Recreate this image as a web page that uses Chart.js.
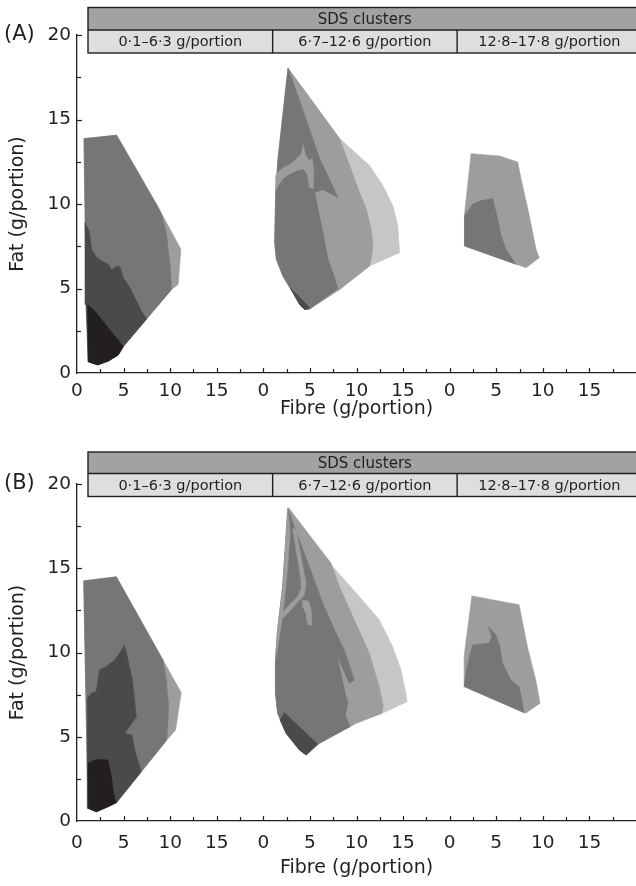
<!DOCTYPE html>
<html><head><meta charset="utf-8">
<script src="https://cdn.jsdelivr.net/npm/chart.js@4.4.1/dist/chart.umd.min.js"></script>
<style>
html,body{margin:0;padding:0;background:#fff;width:636px;height:886px;overflow:hidden}
.p{position:absolute;left:0;width:636px;height:443px}
canvas{display:block}
</style></head><body>
<div class="p" style="top:0"><canvas id="cA" width="636" height="443"></canvas></div>
<div class="p" style="top:443px"><canvas id="cB" width="636" height="443"></canvas></div>
<script>
// ---------- data ----------
const stripTitle = 'SDS clusters';
const clusterLabels = ['0·1–6·3 g/portion', '6·7–12·6 g/portion', '12·8–17·8 g/portion'];
const xTickValues = [0, 5, 10, 15];          // fibre ticks inside each cluster facet
const yTickValues = [0, 5, 10, 15, 20];      // fat ticks
const facetWidth = 20;                       // fibre range of one facet
const xTitle = 'Fibre (g/portion)';
const yTitle = 'Fat (g/portion)';
const shades = ['#231f20', '#4a4a4a', '#767676', '#9d9d9d', '#c6c6c6'];

// Panel (A) polygons: [fibre, fat]
const A1_outer = [[0.75,13.87],[4.25,14.07],[8.72,9.8],[11.15,7.32],[10.86,5.24],[10.15,4.94],[4.97,1.57],[4.43,1.07],[3.36,0.71],[2.21,0.48],[1.21,0.67],[0.93,6.83]];
const A1_mid = [[0.75,13.87],[4.25,14.07],[8.72,9.8],[9.14,9.3],[9.61,8.21],[9.97,6.43],[10.15,4.94],[4.97,1.57],[4.43,1.07],[3.36,0.71],[2.21,0.48],[1.21,0.67],[0.93,6.83]];
const A1_dark = [[0.86,8.91],[1.29,8.41],[1.57,7.32],[2.11,6.83],[2.64,6.63],[3.36,6.43],[3.72,6.09],[4.25,6.33],[4.61,6.27],[4.97,5.63],[5.68,5.04],[6.4,4.25],[6.93,3.65],[7.47,3.2],[4.97,1.57],[4.43,1.07],[3.36,0.71],[2.21,0.48],[1.21,0.67],[0.96,4.05]];
const A1_darkest = [[1.14,4.05],[1.93,3.65],[3.36,2.66],[4.97,1.57],[4.43,1.07],[3.36,0.71],[2.21,0.48],[1.21,0.67]];
const A2_outer = [[2.65,18.04],[8.19,13.87],[11.4,12.28],[12.83,11.09],[13.9,9.9],[14.44,8.71],[14.62,7.12],[11.4,6.33],[8.19,4.94],[4.97,3.79],[4.44,3.75],[3.9,4.05],[3.19,4.74],[2.11,5.73],[1.4,6.73],[1.22,7.72],[1.33,10.69],[1.58,12.68]];
const A2_mid = [[2.65,18.04],[8.19,13.87],[9.26,12.28],[10.33,10.69],[11.05,9.7],[11.58,8.51],[11.76,7.52],[11.58,6.73],[11.4,6.33],[8.19,4.94],[4.97,3.79],[4.44,3.75],[3.9,4.05],[3.19,4.74],[2.11,5.73],[1.4,6.73],[1.22,7.72],[1.33,10.69],[1.58,12.68]];
const A2_dark = [[2.65,18.04],[4.44,15.26],[6.05,12.68],[8.01,10.4],[6.4,10.85],[5.51,10.69],[5.87,9.7],[6.4,8.31],[6.94,6.73],[7.5,5.9],[8.0,5.0],[4.97,3.79],[4.44,3.75],[3.9,4.05],[3.19,4.74],[2.11,5.73],[1.4,6.73],[1.22,7.72],[1.33,10.69],[1.58,12.68]];
const A2_patch = [[1.33,11.69],[1.94,12.08],[2.83,12.32],[3.55,12.68],[4.08,12.98],[4.26,13.51],[4.54,12.88],[4.9,12.58],[5.26,12.68],[5.4,11.88],[5.33,10.89],[4.97,10.99],[4.69,11.79],[4.26,12.08],[3.55,11.98],[2.83,11.79],[2.11,11.49],[1.58,11.09],[1.33,10.79]];
const A2_base = [[2.9,5.01],[3.7,4.6],[4.97,3.85],[4.44,3.75],[3.9,4.05],[3.19,4.74]];
const A3_outer = [[2.3,12.98],[5.34,12.84],[7.3,12.48],[7.66,11.49],[8.55,9.3],[9.27,7.32],[9.62,6.83],[8.2,6.23],[1.59,7.52],[1.59,9.4]];
const A3_inner = [[1.59,9.3],[2.48,10.0],[3.37,10.2],[4.09,10.26],[4.62,10.34],[4.8,9.9],[5.16,9.1],[5.52,8.11],[6.05,7.32],[7.13,6.43],[1.59,7.52]];

// Panel (B) polygons: [fibre, fat]
const B1_outer = [[0.72,14.25],[4.22,14.49],[9.22,9.56],[11.19,7.62],[10.58,5.4],[9.58,4.77],[4.22,1.09],[3.32,0.85],[2.08,0.55],[1.18,0.75]];
const B1_mid = [[0.72,14.25],[4.22,14.49],[9.22,9.56],[9.58,8.37],[9.83,6.79],[9.69,5.21],[9.58,4.77],[4.22,1.09],[3.32,0.85],[2.08,0.55],[1.18,0.75]];
const B1_dark = [[1.11,7.28],[1.54,7.58],[2.08,7.68],[2.25,8.37],[2.43,8.97],[3.15,9.16],[4.04,9.56],[4.58,9.96],[5.11,10.45],[5.47,9.56],[5.94,8.37],[6.37,6.19],[5.1,5.2],[5.9,5.1],[6.18,4.22],[6.9,2.93],[4.22,1.09],[3.32,0.85],[2.08,0.55],[1.18,0.75]];
const B1_darkest = [[1.18,3.43],[2.08,3.66],[3.32,3.62],[3.69,2.63],[3.93,1.64],[4.22,1.09],[3.32,0.85],[2.08,0.55],[1.22,0.75]];
const B2_outer = [[2.69,18.59],[7.44,15.1],[10.3,13.32],[12.44,11.94],[13.87,10.35],[14.77,8.97],[15.3,7.58],[15.41,7.08],[13.16,6.49],[9.95,5.8],[6.01,4.61],[4.59,3.92],[3.87,4.22],[2.44,5.21],[1.54,6.39],[1.3,7.58],[1.3,9.56],[1.54,11.34],[2.08,13.91]];
const B2_mid = [[2.69,18.59],[7.27,15.3],[8.16,13.91],[9.76,11.94],[11.37,9.96],[12.44,7.98],[12.87,6.79],[12.73,6.39],[9.95,5.8],[6.01,4.61],[4.59,3.92],[3.87,4.22],[2.44,5.21],[1.54,6.39],[1.3,7.58],[1.3,9.56],[1.54,11.34],[2.08,13.91]];
const B2_dark = [[2.62,18.57],[3.52,17.18],[4.94,15.1],[6.37,12.93],[7.8,11.15],[8.69,10.15],[9.76,8.37],[9.23,8.18],[7.87,9.86],[8.8,7.58],[9.09,6.99],[8.8,6.29],[9.3,5.6],[6.01,4.61],[4.59,3.92],[3.87,4.22],[2.44,5.21],[1.54,6.39],[1.3,7.58],[1.3,9.56],[1.54,11.34],[2.08,13.91]];
const B2_edge = [[2.62,18.57],[2.87,17.08],[2.62,15.1],[2.26,13.12],[1.9,11.54],[1.55,10.35],[1.3,9.56],[1.54,11.34],[2.08,13.91]];
const B2_streak = [[3.15,17.38],[3.51,17.28],[4.58,14.11],[4.4,13.42],[3.87,13.12],[2.97,12.53],[2.08,12.03],[1.73,12.13],[2.62,12.73],[3.69,13.32],[4.15,13.87],[4.05,14.31]];
const B2_blob = [[4.22,13.12],[4.87,13.02],[5.12,12.53],[5.23,11.64],[4.76,11.64],[4.58,12.33],[4.22,12.73]];
const B2_base = [[2.26,6.43],[5.83,4.57],[4.59,3.92],[3.87,4.22],[2.44,5.21],[1.8,6.0]];
const B3_outer = [[2.38,13.36],[7.45,12.83],[8.34,10.35],[9.24,8.37],[9.7,6.99],[8.17,6.4],[1.55,7.98],[1.55,9.76],[1.91,11.34]];
const B3_inner = [[1.55,7.98],[1.8,8.97],[2.44,10.45],[4.23,10.55],[4.52,10.91],[4.16,11.54],[4.95,11.05],[5.38,10.35],[5.66,9.36],[6.56,8.37],[7.45,7.98],[7.74,7.19],[7.98,6.43]];

// layers, bottom to top: cluster index, shade index, polygon
const layersA = [
  [0,3,A1_outer],[0,2,A1_mid],[0,1,A1_dark],[0,0,A1_darkest],
  [1,4,A2_outer],[1,3,A2_mid],[1,2,A2_dark],[1,3,A2_patch],[1,1,A2_base],
  [2,3,A3_outer],[2,2,A3_inner]
];
const layersB = [
  [0,3,B1_outer],[0,2,B1_mid],[0,1,B1_dark],[0,0,B1_darkest],
  [1,4,B2_outer],[1,3,B2_mid],[1,2,B2_dark],[1,3,B2_edge],[1,3,B2_streak],[1,3,B2_blob],[1,1,B2_base],
  [2,3,B3_outer],[2,2,B3_inner]
];

// ---------- rendering ----------
const FONT = 'DejaVu Sans';
const INK = '#231f20';
const stripEdges = [1.18, 21.0, 40.8, 60.6];

const decor = {
  id: 'decor',
  afterDraw(chart, args, o) {
    const {ctx, scales: {x, y}} = chart;
    ctx.save();
    // inward ticks
    ctx.strokeStyle = INK; ctx.lineWidth = 1.2;
    for (let v = 2.5; v <= 20; v += 2.5) {
      const py = Math.round(y.getPixelForValue(v)) + 0.5;
      ctx.beginPath(); ctx.moveTo(x.left, py); ctx.lineTo(x.left + (v % 5 === 0 ? 5 : 4), py); ctx.stroke();
    }
    for (let v = 2.5; v < 3 * facetWidth; v += 2.5) {
      const px = Math.round(x.getPixelForValue(v)) + 0.5;
      ctx.beginPath(); ctx.moveTo(px, y.bottom); ctx.lineTo(px, y.bottom - (v % 5 === 0 ? 5 : 4)); ctx.stroke();
    }
    // strip header
    const sx = stripEdges.map(v => x.getPixelForValue(v));
    const t = o.stripTop, m = o.stripMid, b = o.stripBottom;
    ctx.fillStyle = '#a2a2a2';
    ctx.fillRect(sx[0], t, sx[3] - sx[0], m - t);
    ctx.fillStyle = '#dedede';
    ctx.fillRect(sx[0], m, sx[3] - sx[0], b - m);
    ctx.strokeStyle = INK; ctx.lineWidth = 1.4;
    ctx.strokeRect(sx[0], t, sx[3] - sx[0], b - t);
    ctx.beginPath(); ctx.moveTo(sx[0], m); ctx.lineTo(sx[3], m);
    ctx.moveTo(sx[1], m); ctx.lineTo(sx[1], b);
    ctx.moveTo(sx[2], m); ctx.lineTo(sx[2], b); ctx.stroke();
    ctx.fillStyle = INK;
    ctx.font = '15px "' + FONT + '"';
    ctx.textAlign = 'center'; ctx.textBaseline = 'middle';
    ctx.fillText(stripTitle, (sx[0] + sx[3]) / 2, (t + m) / 2 + 1);
    ctx.font = '14.5px "' + FONT + '"';
    clusterLabels.forEach((lab, i) => ctx.fillText(lab, (sx[i] + sx[i + 1]) / 2, (m + b) / 2 + 1));
    // panel label
    ctx.font = '21px "' + FONT + '"';
    ctx.textAlign = 'left';
    ctx.fillText(o.label, 4, y.getPixelForValue(20));
    ctx.restore();
  }
};

function makePanel(id, layers, cfg) {
  const datasets = layers.map(([cl, shade, pts], i) => {
    const closed = pts.concat([pts[0]]);
    return {
      data: closed.map(p => ({x: p[0] + facetWidth * cl, y: p[1]})),
      showLine: true, fill: 'shape',
      backgroundColor: shades[shade], borderColor: shades[shade],
      borderWidth: 0.6, pointRadius: 0, pointHoverRadius: 0, tension: 0,
      order: layers.length - i
    };
  });
  const xTicks = [];
  for (let f = 0; f < 3; f++) xTickValues.forEach(v => xTicks.push(v + facetWidth * f));
  return new Chart(document.getElementById(id), {
    type: 'scatter',
    data: {datasets},
    options: {
      responsive: false, animation: false, events: [],
      layout: {padding: {top: cfg.top, left: 0, right: 0, bottom: 0}},
      plugins: {legend: {display: false}, tooltip: {enabled: false},
        decor: {label: cfg.label, stripTop: cfg.stripTop, stripMid: cfg.stripMid, stripBottom: cfg.stripBottom}},
      scales: {
        x: {
          type: 'linear', min: 0, max: 3 * facetWidth,
          afterBuildTicks: s => { s.ticks = xTicks.map(v => ({value: v})); },
          afterFit: s => { s.height = cfg.xAxisH; },
          grid: {display: false, drawTicks: false},
          border: {display: true, color: INK, width: 1.3},
          ticks: {autoSkip: false, maxRotation: 0, padding: cfg.xTickPad, color: INK,
            font: {family: FONT, size: 18.5},
            callback: (v, i) => String(xTickValues[i % xTickValues.length])},
          title: {display: true, text: xTitle, color: INK, font: {family: FONT, size: 19},
            padding: {top: 0, bottom: cfg.xTitlePad}}
        },
        y: {
          type: 'linear', min: 0, max: 20,
          afterBuildTicks: s => { s.ticks = yTickValues.map(v => ({value: v})); },
          afterFit: s => { s.width = 77; },
          grid: {display: false, drawTicks: false},
          border: {display: true, color: INK, width: 1.3},
          ticks: {padding: 6, color: INK, font: {family: FONT, size: 18.5}},
          title: {display: true, text: yTitle, color: INK, font: {family: FONT, size: 19},
            padding: {top: 7, bottom: 0}}
        }
      }
    },
    plugins: [decor]
  });
}

makePanel('cA', layersA, {label: '(A)', top: 35, xAxisH: 70, xTickPad: 7, xTitlePad: 23,
  stripTop: 7.5, stripMid: 30, stripBottom: 53});
makePanel('cB', layersB, {label: '(B)', top: 41, xAxisH: 65, xTickPad: 11, xTitlePad: 7,
  stripTop: 9, stripMid: 30.5, stripBottom: 53.5});
</script>
</body></html>
